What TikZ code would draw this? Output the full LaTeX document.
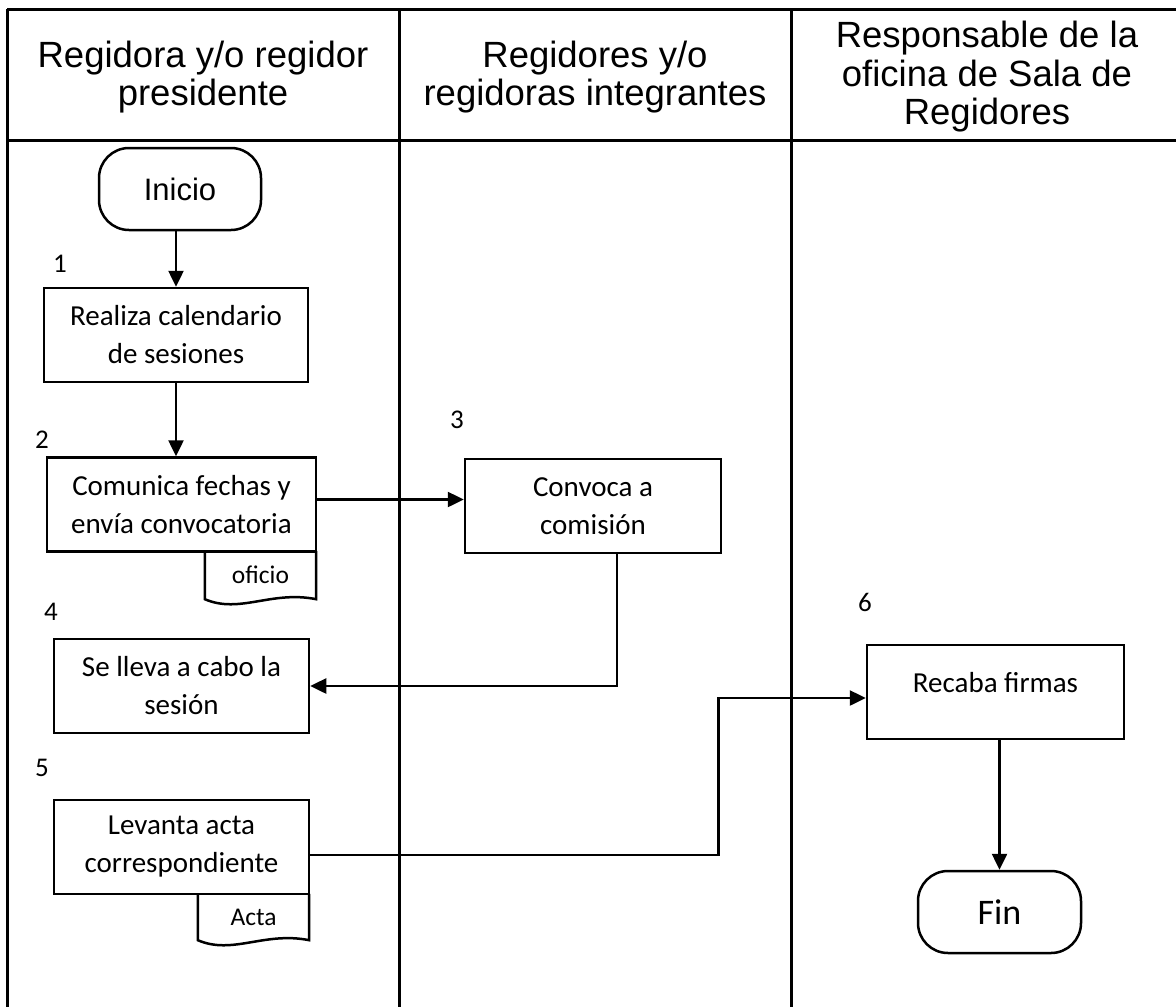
\documentclass[tikz,border=0pt]{standalone}
\usepackage{fontspec}
\setmainfont{Carlito}
\newfontfamily\arialfont{Liberation Sans}
\usepackage{tikz}
\usetikzlibrary{shapes.geometric, arrows.meta}
\newcommand{\cajafont}{\fontsize{29}{38}\selectfont}
\newcommand{\titulofont}{\arialfont\fontsize{36.5}{38.5}\selectfont}
\tikzstyle{proceso} = [rectangle, minimum height=94pt, inner sep=0pt, text centered, align=center, draw=black, line width=2.5pt, font=\cajafont]
\tikzstyle{terminal} = [rectangle, rounded corners=30pt, minimum height=82pt, inner sep=0pt, text centered, draw=black, line width=2.5pt]
\tikzstyle{titulo} = [align=center, font=\titulofont]
\tikzstyle{numero} = [font=\fontsize{27}{30}\selectfont]
\tikzstyle{documento} = [rectangle, minimum width=111pt, inner sep=0pt, font=\fontsize{25.5}{28}\selectfont]
\tikzstyle{arrow} = [line width=2.5pt,-{Triangle[length=16pt,width=15pt]}]
\tikzstyle{linea} = [line width=2.5pt]
\tikzstyle{tabla} = [line width=3pt]

\begin{document}
\begin{tikzpicture}[x=1pt, y=-1pt]
        \useasboundingbox (0,0) rectangle (1176,1007);
        % carriles
        \draw [tabla] (7,9) -- (1176,9);
        \draw [tabla] (7,140) -- (1176,140);
        \draw [tabla] (7,9) -- (7,1007);
        \draw [tabla] (399,9) -- (399,1007);
        \draw [tabla] (791,9) -- (791,1007);
        \node (col1) [titulo] at (203,77) {Regidora y/o regidor\\presidente};
        \node (col2) [titulo] at (595,77) {Regidores y/o\\regidoras integrantes};
        \node (col3) [titulo] at (987,77) {Responsable de la\\oficina de Sala de\\Regidores};

        \node (inicio) [terminal, minimum width=162pt, font=\arialfont\fontsize{31}{36}\selectfont] at (180,189) {Inicio};
        \node (calendario) [proceso, minimum width=264pt] at (176,335) {Realiza calendario\\de sesiones};
        \draw [arrow] (calendario.north |- inicio.south) -- (calendario.north);
        \node (n1) [numero] at (60,264) {1};
        \node (comunica) [proceso, minimum width=269pt] at (181.5,504.5) {Comunica fechas y\\envía convocatoria};
        \draw [arrow] (calendario.south) -- (calendario.south |- comunica.north);
        \node (n2) [numero] at (42,440) {2};
        \node (oficio) [documento, minimum height=48pt] at (260.5,575) {oficio};
        \draw [linea] (oficio.north west) -- (oficio.south west) .. controls +(35,15) and +(-45,-9) .. (oficio.south east) -- (oficio.north east);
        \node (convoca) [proceso, minimum width=256pt] at (593,506) {Convoca a\\comisión};
        \draw [arrow] ([yshift=5pt]comunica.east) -- ([yshift=5pt]comunica.east -| convoca.west);
        \node (n3) [numero] at (457,420) {3};
        \node (sesion) [proceso, minimum width=255pt] at (181.5,686) {Se lleva a cabo la\\sesión};
        \draw [arrow] ([xshift=24pt]convoca.south) |- (sesion.east);
        \node (n4) [numero] at (51,612) {4};
        \node (levanta) [proceso, minimum width=255pt] at (181.5,847) {Levanta acta\\correspondiente};
        \node (n5) [numero] at (42,768) {5};
        \node (acta) [documento, minimum height=46pt] at (253.5,917) {Acta};
        \draw [linea] (acta.north west) -- (acta.south west) .. controls +(35,15) and +(-45,-9) .. (acta.south east) -- (acta.north east);
        \node (firmas) [proceso, minimum width=257pt, text height=20pt, text depth=20pt] at (995.5,692) {Recaba firmas};
        \draw [arrow] ([yshift=-8pt]levanta.east) -- ++(408,0) |- ([yshift=-6pt]firmas.west);
        \node (n6) [numero] at (865,602) {6};
        \node (fin) [terminal, minimum width=163pt, font=\fontsize{36}{40}\selectfont] at (999.5,912) {Fin};
        \draw [arrow] (fin.north |- firmas.south) -- (fin.north);
    \end{tikzpicture}
\end{document}
